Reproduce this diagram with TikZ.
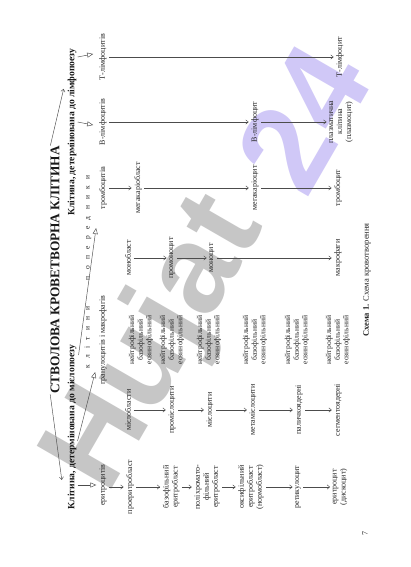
\documentclass[tikz,border=0pt]{standalone}
\usepackage{fontspec}
\setmainfont{Liberation Serif}
\newfontfamily\wmfont{Liberation Sans}
\usetikzlibrary{arrows.meta,calc}
\newcommand{\lsp}{\hspace{6.3pt}}
\definecolor{wmgray}{RGB}{198,198,198}
\definecolor{wmviolet}{RGB}{208,200,247}
\tikzset{
  lab/.style={rotate=90,inner sep=1pt,font=\fontsize{8}{9}\selectfont,align=center,text=black!85},
  trip/.style={lab,font=\fontsize{7.6}{8.6}\selectfont},
  ttl/.style={rotate=90,inner sep=1pt,font=\bfseries\fontsize{13.3}{15}\selectfont,text=black!90},
  sub/.style={rotate=90,inner sep=1pt,font=\bfseries\fontsize{9.6}{11}\selectfont,text=black!90},
  arr/.style={draw=black!70,line width=0.45pt,shorten <=1.5pt,shorten >=1.5pt,-{Straight Barb[length=2.6pt,width=4.2pt]}},
  tri/.style={draw=black!70,line width=0.45pt,-{Triangle[open,length=6pt,width=5pt]}},
  wm/.style={rotate=60,inner sep=0pt,font=\wmfont\bfseries\fontsize{125}{125}\selectfont}
}
\begin{document}
\begin{tikzpicture}[x=1pt,y=-1pt]
\useasboundingbox (0,0) rectangle (411,567);
\fill[white] (0,0) rectangle (411,567);
% watermark
\node[wm,text=wmgray] (wm1) at (158,345) {Hujat};
\node[wm,text=wmviolet] (wm2) at (303,118) {24};
% headings
\node[ttl] (title) at (55,270) {СТВОЛОВА КРОВЕТВОРНА КЛІТИНА};
\node[sub] (myelo) at (72,427) {Клітина, детермінована до мієлопоезу};
\node[sub] (lympho) at (72,132) {Клітина, детермінована до лімфопоезу};
\draw[arr] ($(title.west)+(-5,-2)$) -- ($(myelo.west)+(-10,-29)$);
\draw[arr] ($(title.east)+(-5,2)$) -- ($(lympho.east)+(-8,40)$);
\node[lab,font=\fontsize{7.5}{9}\selectfont] (kp) at (88,272) {к\lsp л\lsp і\lsp т\lsp и\lsp н\lsp и\hspace{26pt}п\lsp о\lsp п\lsp е\lsp р\lsp е\lsp д\lsp н\lsp и\lsp к\lsp и};
% progenitors
\node[lab] (pE) at (103,485) {еритроцитів};
\node[lab] (pG) at (103,340) {гранулоцитів і макрофагів};
\node[lab] (pTh) at (103,188) {тромбоцитів};
\node[lab] (pB) at (103,122) {В-лімфоцитів};
\node[lab] (pT) at (103,57) {Т-лімфоцитів};
\draw[tri] ($(myelo.south)+(0,58)$) -- ($(pE.north)+(-2,0)$);
\draw[tri] ($(myelo.south)+(0,14)$) -- ($(pG.north)+(-3,32)$);
\draw[tri] ($(myelo.south)+(1,-72)$) -- ($(pTh.north)+(-2,40)$);
\draw[tri] ($(lympho.south)+(0,-10)$) -- ($(pB.north)+(-5,3)$);
\draw[tri] ($(lympho.south)+(0,-75)$) -- ($(pT.north)+(-5,-3)$);
% erythrocyte line
\node[lab] (e1) at (130,487) {проеритробласт};
\node[lab] (e2) at (171,487) {базофільний\\еритробласт};
\node[lab] (e3) at (207,487) {поліхромато-\\фільний\\еритробласт};
\node[lab] (e4) at (251,487) {оксифільний\\еритробласт\\(нормобласт)};
\node[lab] (e5) at (298,487) {ретикулоцит};
\node[lab] (e6) at (340,487) {еритроцит\\(дискоцит)};
\draw[arr] (pE.south|-e1) -- (e1.north);
\draw[arr] (e1.south) -- (e2.north);
\draw[arr] (e2.south) -- (e3.north);
\draw[arr] (e3.south) -- (e4.north);
\draw[arr] (e4.south) -- (e5.north);
\draw[arr] (e5.south) -- (e6.north);
% granulocyte line
\node[lab] (g1) at (128,410) {мієлобласти};
\node[lab] (g2) at (172,410) {промієлоцити};
\node[lab] (g3) at (210,410) {мієлоцити};
\node[lab] (g4) at (253,410) {метамієлоцити};
\node[lab] (g5) at (299,410) {паличкоядерні};
\node[lab] (g6) at (338,410) {сегментоядерні};
\draw[arr] (g1.south) -- (g2.north);
\draw[arr] (g2.south) -- (g3.north);
\draw[arr] (g3.south) -- (g4.north);
\draw[arr] (g4.south) -- (g5.north);
\draw[arr] (g5.south) -- (g6.north);
\node[trip] (n1) at (141,340) {нейтрофільний\\базофільний\\еозинофільний};
\node[trip] (n2) at (172,340) {нейтрофільний\\базофільний\\еозинофільний};
\node[trip] (n3) at (209,340) {нейтрофільний\\базофільний\\еозинофільний};
\node[trip] (n4) at (255,340) {нейтрофільний\\базофільний\\еозинофільний};
\node[trip] (n5) at (297,340) {нейтрофільний\\базофільний\\еозинофільний};
\node[trip] (n6) at (338,340) {нейтрофільний\\базофільний\\еозинофільний};
% monocyte line
\node[lab] (mo1) at (128,258) {монобласт};
\node[lab] (mo2) at (172,258) {промоноцит};
\node[lab] (mo3) at (212,258) {моноцит};
\node[lab] (mo4) at (338,258) {макрофаги};
\draw[arr] (mo1.south) -- (mo2.north);
\draw[arr] (mo2.south) -- (mo3.north);
\draw[arr] (mo3.south) -- (mo4.north);
% thrombocyte line
\node[lab] (t1) at (138,188) {мегакаріобласт};
\node[lab] (t2) at (255,188) {мегакаріоцит};
\node[lab] (t3) at (338,188) {тромбоцит};
\draw[arr] (pTh.south) -- (t1.north);
\draw[arr] (t1.south) -- (t2.north);
\draw[arr] (t2.south) -- (t3.north);
% B line
\node[lab] (b1) at (255,122) {В-лімфоцит};
\node[lab] (b2) at (341,122) {плазматична\\клітина\\(плазмоцит)};
\draw[arr] (pB.south) -- (b1.north);
\draw[arr] (b1.south) -- (b2.north);
% T line
\node[lab] (t4) at (340,57) {Т-лімфоцит};
\draw[arr] (pT.south) -- (t4.north);
% caption
\node[lab,font=\fontsize{8.5}{10}\selectfont] (cap) at (367,280) {\textbf{Схема 1.} Схема кровотворення};
\node[lab,font=\fontsize{8}{9}\selectfont] (pg) at (365,533) {7};
\end{tikzpicture}
\end{document}
